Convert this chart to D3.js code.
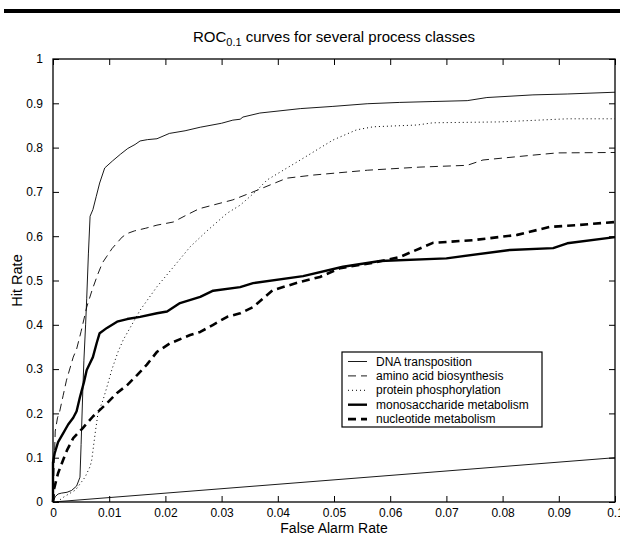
<!DOCTYPE html>
<html>
<head>
<meta charset="utf-8">
<script src="https://cdn.jsdelivr.net/npm/d3@7"></script>
<style>
  body { margin: 0; background: #fff; }
  svg { display: block; font-family: "Liberation Sans", Arial, Helvetica, sans-serif; }
  .axis path { display: none; }
  .axis line { stroke: #000; stroke-width: 1; }
  .axis text { font-size: 12px; fill: #000; }
</style>
</head>
<body>
<div id="chart"></div>
<script>
// tick values
const xTicks = [0, 0.01, 0.02, 0.03, 0.04, 0.05, 0.06, 0.07, 0.08, 0.09, 0.1];
const yTicks = [0, 0.1, 0.2, 0.3, 0.4, 0.5, 0.6, 0.7, 0.8, 0.9, 1];

// curves, [false alarm rate, hit rate]
const dnaTransposition = [
  [0, 0], [0.0004, 0.012], [0.0009, 0.018], [0.0015, 0.02], [0.0025, 0.022], [0.0033, 0.026],
  [0.0042, 0.036], [0.0048, 0.056], [0.005, 0.13], [0.0053, 0.25], [0.0055, 0.32], [0.0058, 0.4],
  [0.006, 0.46], [0.0063, 0.56], [0.0066, 0.645], [0.0071, 0.66], [0.0077, 0.69], [0.0083, 0.72],
  [0.0092, 0.754], [0.0106, 0.77], [0.012, 0.785], [0.0133, 0.798], [0.0146, 0.807], [0.0155, 0.815],
  [0.0168, 0.818], [0.0185, 0.82], [0.0207, 0.832], [0.0235, 0.838], [0.0262, 0.846], [0.03, 0.855],
  [0.032, 0.862], [0.0333, 0.864], [0.0338, 0.869], [0.0368, 0.878], [0.044, 0.888], [0.0498, 0.893],
  [0.0559, 0.899], [0.0617, 0.902], [0.0676, 0.904], [0.0737, 0.906], [0.0772, 0.913], [0.0854, 0.919],
  [0.0915, 0.921], [0.1, 0.925]
];
const aminoAcidBiosynthesis = [
  [0, 0], [0.0002, 0.08], [0.0004, 0.16], [0.0008, 0.19], [0.0012, 0.205], [0.0018, 0.24],
  [0.0024, 0.275], [0.0036, 0.327], [0.0042, 0.345], [0.005, 0.385], [0.006, 0.44], [0.007, 0.48],
  [0.008, 0.515], [0.0088, 0.54], [0.0096, 0.555], [0.0105, 0.572], [0.0114, 0.585], [0.0123, 0.598],
  [0.0132, 0.606], [0.0145, 0.612], [0.0165, 0.618], [0.0185, 0.625], [0.0214, 0.632], [0.0238, 0.648],
  [0.026, 0.662], [0.032, 0.682], [0.0356, 0.7], [0.0416, 0.731], [0.0463, 0.738], [0.056, 0.749],
  [0.0653, 0.756], [0.0737, 0.76], [0.0765, 0.772], [0.0854, 0.783], [0.0897, 0.788], [0.1, 0.789]
];
const proteinPhosphorylation = [
  [0.0007, 0], [0.002, 0.012], [0.004, 0.027], [0.0057, 0.056], [0.0066, 0.08], [0.0069, 0.095],
  [0.0075, 0.155], [0.008, 0.2], [0.0089, 0.23], [0.0096, 0.26], [0.0105, 0.3], [0.0116, 0.34],
  [0.0125, 0.366], [0.0155, 0.433], [0.0185, 0.486], [0.0214, 0.53], [0.0244, 0.576], [0.0274, 0.612],
  [0.031, 0.652], [0.0333, 0.67], [0.036, 0.7], [0.0381, 0.727], [0.044, 0.772], [0.0498, 0.817],
  [0.054, 0.84], [0.057, 0.847], [0.0648, 0.851], [0.0676, 0.856], [0.0795, 0.858], [0.0915, 0.865],
  [0.1, 0.865]
];
const monosaccharideMetabolism = [
  [0, 0], [0, 0.09], [0.0003, 0.11], [0.0009, 0.135], [0.0018, 0.155], [0.0027, 0.175],
  [0.0036, 0.19], [0.0042, 0.205], [0.0048, 0.237], [0.0055, 0.27], [0.006, 0.298], [0.0071, 0.327],
  [0.0078, 0.36], [0.0083, 0.381], [0.0096, 0.393], [0.0114, 0.407], [0.0132, 0.413], [0.0155, 0.418],
  [0.0185, 0.426], [0.0203, 0.43], [0.0226, 0.449], [0.0262, 0.463], [0.0285, 0.477], [0.0333, 0.485],
  [0.0356, 0.494], [0.0445, 0.51], [0.0516, 0.531], [0.0582, 0.544], [0.07, 0.55], [0.0813, 0.569],
  [0.089, 0.573], [0.0915, 0.584], [0.1, 0.598]
];
const nucleotideMetabolism = [
  [0, 0], [0.0002, 0.03], [0.0009, 0.065], [0.0018, 0.095], [0.0025, 0.117], [0.0036, 0.144],
  [0.0053, 0.167], [0.0071, 0.193], [0.0096, 0.223], [0.0114, 0.246], [0.0132, 0.264], [0.015, 0.287],
  [0.0167, 0.31], [0.0185, 0.339], [0.0208, 0.358], [0.0244, 0.377], [0.0262, 0.384], [0.0285, 0.4],
  [0.031, 0.418], [0.0333, 0.426], [0.0356, 0.44], [0.0391, 0.478], [0.044, 0.497], [0.0475, 0.508],
  [0.0511, 0.528], [0.057, 0.54], [0.0617, 0.553], [0.0676, 0.585], [0.0747, 0.591], [0.0826, 0.603],
  [0.0884, 0.621], [0.0932, 0.625], [0.1, 0.632]
];
const chanceLine = [[0, 0], [0.1, 0.1]];

const seriesNames = ["DNA transposition", "amino acid biosynthesis", "protein phosphorylation",
  "monosaccharide metabolism", "nucleotide metabolism"];
const seriesData = [dnaTransposition, aminoAcidBiosynthesis, proteinPhosphorylation,
  monosaccharideMetabolism, nucleotideMetabolism];
const seriesStyle = [
  { width: 0.9, dash: null },
  { width: 0.9, dash: "8,5" },
  { width: 1, dash: "1,3" },
  { width: 2.4, dash: null },
  { width: 2.6, dash: "8,5" }
];

const W = 620, H = 536;
const margin = { top: 59, right: 5, bottom: 34, left: 53 };
const width = W - margin.left - margin.right;
const height = H - margin.top - margin.bottom;

const svg = d3.select("#chart").append("svg")
  .attr("width", W)
  .attr("height", H);

// the rule across the top of the page
svg.append("rect")
  .attr("x", 4).attr("y", 9)
  .attr("width", W - 4).attr("height", 4)
  .attr("fill", "#000");

const g = svg.append("g")
  .attr("transform", "translate(" + margin.left + "," + margin.top + ")");

const x = d3.scaleLinear().domain([0, 0.1]).range([0, width]);
const y = d3.scaleLinear().domain([0, 1]).range([height, 0]);
const fmt = d => String(+d.toFixed(2));

g.append("g").attr("class", "axis")
  .attr("transform", "translate(0," + height + ")")
  .call(d3.axisBottom(x).tickValues(xTicks).tickSize(-6).tickPadding(6).tickFormat(fmt));
g.append("g").attr("class", "axis")
  .call(d3.axisTop(x).tickValues(xTicks).tickSize(-6).tickFormat(""));
g.append("g").attr("class", "axis")
  .call(d3.axisLeft(y).tickValues(yTicks).tickSize(-6).tickPadding(10).tickFormat(fmt));
g.append("g").attr("class", "axis")
  .attr("transform", "translate(" + width + ",0)")
  .call(d3.axisRight(y).tickValues(yTicks).tickSize(-6).tickFormat(""));

const line = d3.line().x(d => x(d[0])).y(d => y(d[1]));

g.append("path")
  .datum(chanceLine)
  .attr("d", line)
  .attr("fill", "none")
  .attr("stroke", "#000")
  .attr("stroke-width", 0.9);

seriesData.forEach((data, i) => {
  g.append("path")
    .datum(data)
    .attr("d", line)
    .attr("fill", "none")
    .attr("stroke", "#000")
    .attr("stroke-width", seriesStyle[i].width)
    .attr("stroke-dasharray", seriesStyle[i].dash)
    .attr("stroke-linejoin", "round");
});

// frame
g.append("rect")
  .attr("width", width).attr("height", height)
  .attr("fill", "none")
  .attr("stroke", "#000")
  .attr("stroke-width", 1.3);

// title
const title = svg.append("text")
  .attr("x", margin.left + width / 2)
  .attr("y", 42)
  .attr("text-anchor", "middle")
  .attr("font-size", 15);
title.append("tspan").text("ROC");
title.append("tspan").attr("font-size", 11).attr("dy", 4).text("0.1");
title.append("tspan").attr("dy", -4).text(" curves for several process classes");

svg.append("text")
  .attr("x", margin.left + width / 2)
  .attr("y", 533)
  .attr("text-anchor", "middle")
  .attr("font-size", 14)
  .text("False Alarm Rate");

svg.append("text")
  .attr("transform", "translate(22," + (margin.top + height / 2) + ") rotate(-90)")
  .attr("text-anchor", "middle")
  .attr("font-size", 14.5)
  .text("Hit Rate");

// legend
const legend = g.append("g")
  .attr("transform", "translate(" + (342 - margin.left) + "," + (352 - margin.top) + ")");
legend.append("rect")
  .attr("width", 200).attr("height", 75)
  .attr("fill", "#fff")
  .attr("stroke", "#000")
  .attr("stroke-width", 1.2);
seriesNames.forEach((name, i) => {
  const ly = 9.5 + i * 14.4;
  legend.append("line")
    .attr("x1", 6).attr("x2", 25)
    .attr("y1", ly).attr("y2", ly)
    .attr("stroke", "#000")
    .attr("stroke-width", seriesStyle[i].width)
    .attr("stroke-dasharray", seriesStyle[i].dash);
  legend.append("text")
    .attr("x", 34).attr("y", ly + 4)
    .attr("font-size", 12)
    .text(name);
});
</script>
</body>
</html>
